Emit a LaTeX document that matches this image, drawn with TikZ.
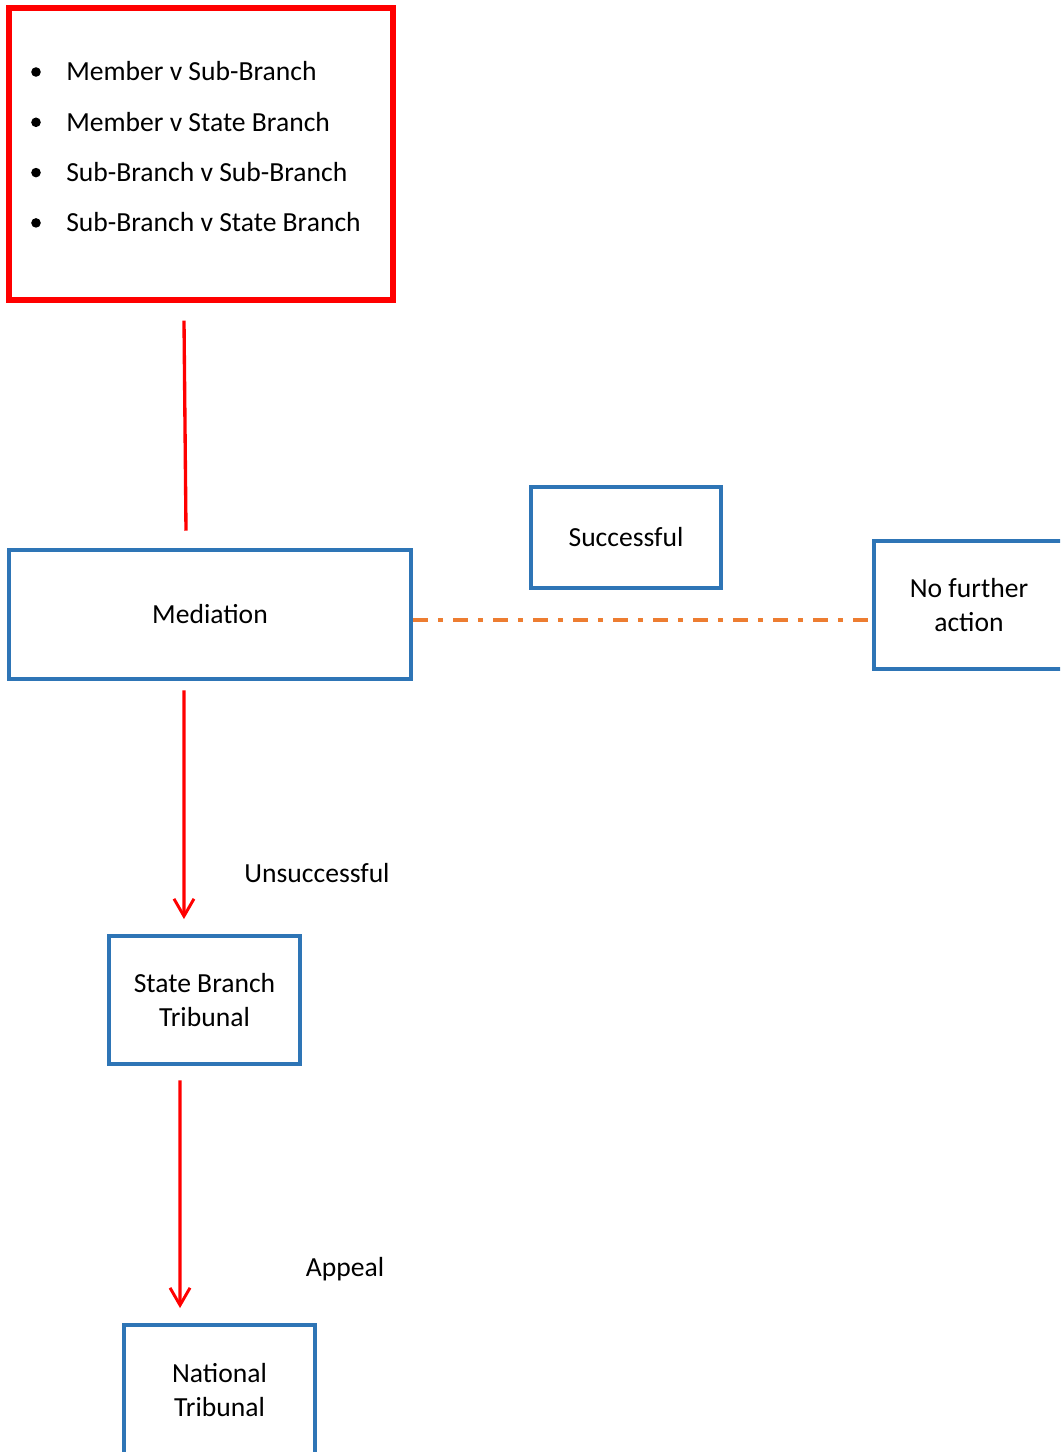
\documentclass[tikz,border=0pt]{standalone}
\usepackage{fontspec}
\setmainfont{Carlito}
\usetikzlibrary{arrows.meta,positioning}
\definecolor{boxblue}{HTML}{2E75B6}
\definecolor{dashorange}{HTML}{ED7D31}
\tikzset{
    flowtext/.style={font=\fontsize{20.7}{25.5}\selectfont},
    bluebox/.style={flowtext,draw=boxblue,line width=3.4pt,align=center,inner sep=0pt},
    redbox/.style={draw=red,line width=3.8pt,inner sep=0pt},
    redline/.style={red,line width=2.5pt},
    redarrow/.style={redline,-{Straight Barb[length=13pt,width=15pt,line width=2.2pt]}},
    orangelink/.style={dashorange,line width=2.4pt,dash pattern=on 11pt off 7.5pt on 3.5pt off 8pt}
}

\begin{document}
\begin{tikzpicture}[x=0.75pt,y=-0.75pt]
\useasboundingbox (0,0) rectangle (1060,1452);
\clip (0,0) rectangle (1060,1452);
% dispute box
\node[redbox,minimum width=288pt,minimum height=219pt] (issues) at (201,154) {};
\foreach \txt [count=\i] in {Member v Sub-Branch,Member v State Branch,Sub-Branch v Sub-Branch,Sub-Branch v State Branch}{
  \fill (36,{72+50.3*(\i-1)}) circle (3.6pt);
  \node[flowtext,anchor=base west,inner sep=0pt] (item\i) at (66,{81+50.3*(\i-1)}) {\txt};
}
% process boxes
\node[bluebox,minimum width=301.5pt,minimum height=96.75pt] (mediation) at (210,614.5) {Mediation};
\node[bluebox,minimum width=142.5pt,minimum height=75.75pt] (success) at (626,537.5) {Successful};
\node[bluebox,minimum width=142.5pt,minimum height=96pt] (nfa) at (969,605) {No further\\action};
\node[bluebox,minimum width=143.25pt,minimum height=96pt] (sbt) at (204.5,1000) {State Branch\\Tribunal};
\node[bluebox,minimum width=143.25pt,minimum height=97.5pt] (nat) at (219.5,1390) {National\\Tribunal};
% labels
\node[flowtext,inner sep=0pt] (unsucc) at (317,873) {Unsuccessful};
\node[flowtext,inner sep=0pt] (appeal) at (345,1269) {Appeal};
% connectors
\draw[redline] ([xshift=-12.75pt,yshift=-13.5pt]issues.south) -- ([xshift=-18pt,yshift=12.75pt]mediation.north);
\draw[orangelink] ([yshift=-4.1pt]mediation.east) -- ([yshift=-4.1pt]mediation.east -| nfa.west);
\draw[redarrow] ([xshift=-19.5pt,yshift=-6.75pt]mediation.south) -- ([xshift=-15.4pt,yshift=11pt]sbt.north);
\draw[redarrow] ([xshift=-18.4pt,yshift=-10.5pt]sbt.south) -- ([xshift=-29.6pt,yshift=11pt]nat.north);
\end{tikzpicture}
\end{document}
